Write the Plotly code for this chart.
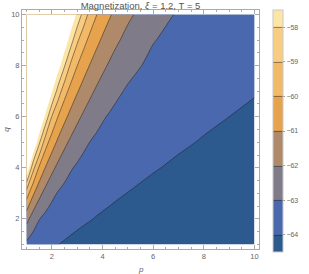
import plotly.graph_objects as go

title_text = "Magnetization, <i>ξ</i> = 1.2, T = 5"
p_vals = [1, 1.25, 1.5, 1.75, 2, 2.25, 2.5, 2.75, 3, 3.25, 3.5, 3.75, 4, 4.25, 4.5, 5, 6, 7, 8, 9, 10]
q_vals = [1, 2, 3, 4, 5, 6, 7, 8, 9, 10]
# magnetization[i][j] at q = q_vals[i], p = p_vals[j]; values above -57 lie outside the plotted range
magnetization = [
    [-63.22, -63.48, -63.66, -63.79, -63.90, -63.99, -64.07, -64.14, -64.20, -64.25, -64.29, -64.33, -64.37, -64.40, -64.43, -64.47, -64.55, -64.60, -64.64, -64.68, -64.70],
    [-61.67, -62.48, -62.97, -63.25, -63.43, -63.56, -63.67, -63.76, -63.84, -63.91, -63.97, -64.03, -64.08, -64.13, -64.17, -64.24, -64.35, -64.43, -64.49, -64.54, -64.58],
    [-59.48, -60.82, -61.72, -62.34, -62.79, -63.07, -63.26, -63.40, -63.51, -63.60, -63.68, -63.75, -63.81, -63.86, -63.92, -64.01, -64.15, -64.26, -64.34, -64.41, -64.46],
    [-56.00, -58.63, -60.15, -61.06, -61.75, -62.26, -62.65, -62.93, -63.12, -63.27, -63.38, -63.47, -63.55, -63.62, -63.68, -63.79, -63.96, -64.09, -64.19, -64.27, -64.34],
    [-55.01, -55.56, -57.84, -59.58, -60.52, -61.22, -61.77, -62.20, -62.55, -62.82, -63.01, -63.16, -63.27, -63.37, -63.45, -63.58, -63.77, -63.92, -64.04, -64.14, -64.22],
    [-55.01, -55.01, -55.24, -57.30, -59.05, -60.05, -60.76, -61.32, -61.78, -62.15, -62.46, -62.72, -62.92, -63.06, -63.18, -63.36, -63.60, -63.76, -63.89, -64.00, -64.09],
    [-55.01, -55.01, -55.01, -55.01, -56.87, -58.46, -59.63, -60.36, -60.92, -61.40, -61.79, -62.12, -62.40, -62.64, -62.83, -63.10, -63.42, -63.61, -63.76, -63.87, -63.97],
    [-55.01, -55.01, -55.01, -55.01, -55.01, -56.51, -57.94, -59.24, -59.99, -60.57, -61.04, -61.45, -61.80, -62.09, -62.35, -62.75, -63.21, -63.46, -63.62, -63.75, -63.86],
    [-55.01, -55.01, -55.01, -55.01, -55.01, -55.01, -56.22, -57.56, -58.83, -59.66, -60.25, -60.73, -61.14, -61.50, -61.81, -62.30, -62.96, -63.28, -63.49, -63.63, -63.75],
    [-55.01, -55.01, -55.01, -55.01, -55.01, -55.01, -55.01, -55.97, -57.23, -58.39, -59.34, -59.95, -60.44, -60.85, -61.21, -61.81, -62.63, -63.09, -63.34, -63.51, -63.64],
]
contour_levels = [-64, -63, -62, -61, -60, -59, -58]
plot_max = -57
band_colors = ["#2c5a8f", "#4a68ad", "#7f7b88", "#ae8a6b", "#e6a24d", "#f2ba68", "#f8cd82", "#fde5a6"]
tick_vals = [2, 4, 6, 8, 10]

cs = [[i / (len(band_colors) - 1), c] for i, c in enumerate(band_colors)]

fig = go.Figure()
fig.add_trace(go.Contour(
    x=p_vals, y=q_vals, z=magnetization,
    contours=dict(start=contour_levels[0], end=contour_levels[-1], size=1, coloring="fill", showlines=True),
    line=dict(color="rgba(30,25,20,0.6)", width=0.8),
    colorscale=cs,
    hoverinfo="skip",
    colorbar=dict(
        thickness=10, thicknessmode="pixels",
        len=242, lenmode="pixels",
        x=1.058, xanchor="left", y=1.0, yanchor="top",
        xpad=0, ypad=0,
        outlinewidth=1, outlinecolor="#c8c8c8",
        ticks="outside", ticklen=2, tickcolor="#999",
        tickvals=contour_levels,
        tickfont=dict(size=7, color="#666", family="Liberation Sans"),
    ),
))
fig.add_trace(go.Contour(
    x=p_vals, y=q_vals, z=magnetization,
    contours=dict(type="constraint", operation="<", value=plot_max),
    fillcolor="white", line=dict(width=0), showscale=False, hoverinfo="skip",
))

axis_common = dict(
    showline=True, mirror="allticks", linecolor="#aaa", linewidth=1,
    ticks="inside", ticklen=4, tickcolor="#aaa", showgrid=False, zeroline=False,
    tickfont=dict(size=7.5, color="#666", family="Liberation Sans"),
    minor=dict(ticks="inside", ticklen=2, tickcolor="#aaa", dtick=0.5, showgrid=False),
)
fig.update_layout(
    width=309, height=274,
    margin=dict(l=22, r=47, t=10, b=25),
    paper_bgcolor="white", plot_bgcolor="white",
    showlegend=False,
    title=dict(text=title_text, x=0.5, xref="paper", xanchor="center",
               y=1 - 6 / 274, yanchor="middle", font=dict(size=9.5, color="#555", family="Liberation Sans")),
    xaxis=dict(range=[0.82, 10.18], tickvals=tick_vals, **axis_common),
    yaxis=dict(range=[0.82, 10.18], tickvals=tick_vals, **axis_common),
    annotations=[
        dict(text="<i>p</i>", xref="paper", yref="paper", x=0.5, y=-20 / 239, yanchor="middle", showarrow=False,
             font=dict(size=8, color="#666", family="Liberation Sans")),
        dict(text="<i>q</i>", xref="paper", yref="paper", x=-16 / 240, y=0.5, xanchor="center", yanchor="middle",
             showarrow=False, textangle=-90, font=dict(size=8, color="#666", family="Liberation Sans")),
    ],
)
fig.write_html("out.html", config={"displayModeBar": False},
               post_script="document.body.style.margin='0px';")
